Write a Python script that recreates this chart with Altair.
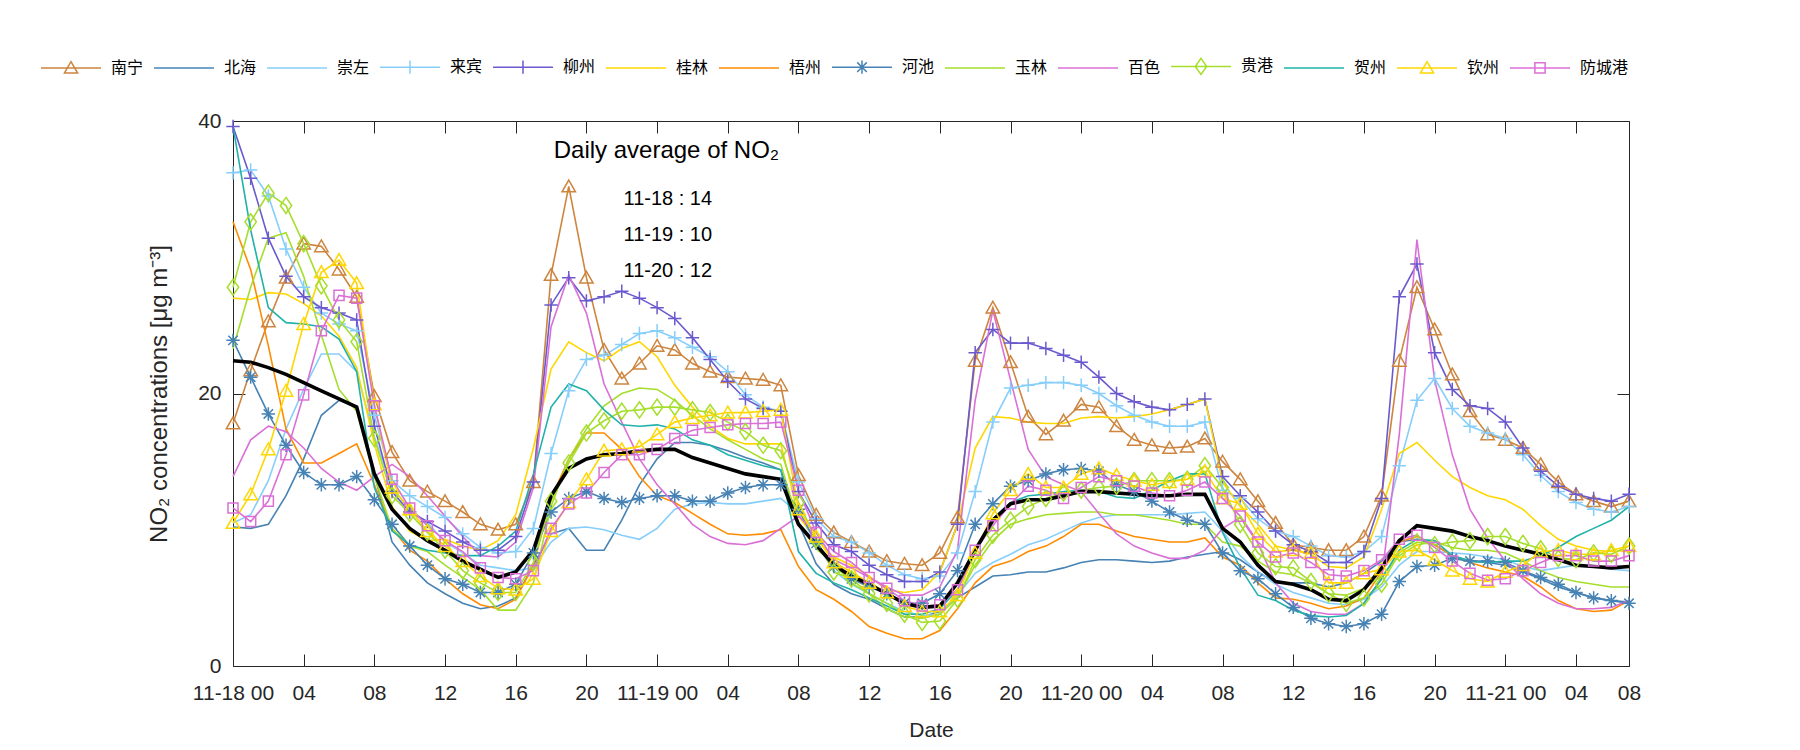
import json
import altair as alt
import pandas as pd

# ---------------- data (hourly NO2, 11-18 00 .. 11-21 07) ----------------
hours = list(range(80))

nanning = [17.8, 21.7, 25.3, 28.5, 31.0, 30.8, 29.1, 27.1, 19.8, 15.7, 13.6, 12.8,
           12.1, 11.3, 10.4, 10.0, 10.4, 13.5, 28.7, 35.2, 28.5, 23.2, 21.1,
           22.2, 23.5, 23.2, 22.2, 21.6, 21.2, 21.1, 21.0, 20.6,
           14.0, 11.1, 9.8,
           9.1, 8.4, 7.7, 7.5, 7.4, 8.3, 10.9, 22.4, 26.3, 22.3, 18.3,
           17.0, 18.0, 19.2, 19.0, 17.6, 16.6, 16.2, 16.0, 16.1, 16.7, 15.0,
           13.7, 12.1, 10.5, 8.9, 8.7, 8.5, 8.5, 9.5, 12.5, 22.4, 27.8, 24.7,
           21.4, 18.7, 17.0, 16.6, 16.0, 14.8, 13.5, 12.6, 12.1, 11.7, 12.1]
beihai = [10.2, 10.1, 10.4, 12.5, 15.2, 18.4, 19.5, 19.0, 14.1, 9.1, 7.4, 6.1,
          5.3, 4.6, 4.2, 4.4, 5.0, 7.4, 9.7, 10.1, 8.5, 8.5, 10.7,
          13.3, 15.2, 16.4, 16.4, 16.2, 15.8, 15.3, 14.9, 14.4,
          10.5, 7.5, 6.0,
          5.3, 4.9, 4.2, 3.6, 3.6, 4.0, 5.0, 5.8, 6.6, 6.7, 6.9,
          6.9, 7.2, 7.6, 7.8, 7.8, 7.7, 7.6, 7.7, 8.0, 8.2, 8.4,
          7.8, 6.9, 6.1, 6.1, 6.1, 5.8, 6.1, 6.8, 7.7, 9.1, 9.3, 8.9,
          8.1, 7.7, 7.6, 7.4, 6.9, 6.4, 5.8, 5.4, 5.0, 4.8, 4.7]
chongzuo = [10.5, 11.1, 13.6, 17.4, 20.3, 22.9, 22.9, 21.6, 16.8, 13.1, 11.5, 10.5,
            9.1, 8.3, 7.4, 7.2, 7.0, 7.2, 9.1, 10.1, 10.2, 10.0, 9.6,
            9.3, 10.1, 11.5, 11.9, 12.0, 11.9, 11.9, 12.1, 12.3,
            11.2, 9.0, 7.0,
            6.0, 5.3, 4.6, 4.0, 3.7, 3.8, 5.2, 6.8, 7.6, 8.2, 8.9,
            9.3, 9.9, 10.5, 10.9, 11.1, 11.1, 11.1, 11.1, 11.2, 11.3, 9.9,
            8.1, 6.9, 6.0, 5.4, 5.0, 4.6, 4.5, 4.9, 5.8, 7.4, 8.4, 8.4,
            8.3, 8.2, 8.0, 7.8, 7.3, 7.0, 7.2, 7.4, 7.3, 7.1, 7.0]
laibin = [36.2, 36.4, 34.5, 30.6, 27.8, 25.9, 25.1, 24.6, 18.4, 13.6, 12.5, 11.7,
          10.9, 9.7, 8.7, 8.3, 8.4, 10.1, 15.6, 20.2, 22.5, 22.8, 23.6,
          24.4, 24.6, 24.1, 23.4, 22.7, 21.6, 19.9, 19.0, 18.7,
          13.5, 10.8, 9.5,
          9.1, 8.3, 7.4, 6.7, 6.4, 6.6, 8.3, 12.8, 17.9, 20.4, 20.6,
          20.8, 20.8, 20.6, 20.0, 19.1, 18.4, 17.9, 17.6, 17.6, 17.9, 12.9,
          12.3, 10.8, 9.9, 9.5, 8.8, 8.1, 8.0, 8.4, 9.5, 14.7, 19.5, 21.1,
          18.9, 17.6, 17.1, 16.7, 15.5, 14.0, 12.8, 12.0, 11.5, 11.3, 11.7]
liuzhou = [39.6, 35.8, 31.4, 28.6, 27.1, 26.3, 25.9, 25.4, 17.6, 12.8, 11.3, 10.6,
           9.9, 9.1, 8.5, 8.5, 9.5, 13.5, 26.5, 28.5, 26.8, 27.1, 27.5,
           27.0, 26.3, 25.5, 24.1, 22.5, 20.9, 19.6, 18.9, 18.7,
           12.8, 10.5, 8.9,
           8.4, 7.4, 6.7, 6.2, 6.2, 6.9, 10.4, 23.0, 24.7, 23.7, 23.7,
           23.3, 22.8, 22.3, 21.2, 20.0, 19.4, 19.0, 18.8, 19.2, 19.6, 13.9,
           12.5, 11.3, 9.9, 8.9, 8.4, 7.6, 7.6, 8.4, 12.3, 27.1, 29.5, 23.0,
           20.3, 19.1, 18.9, 17.9, 16.0, 14.3, 13.2, 12.6, 12.3, 12.1, 12.6]
guilin = [27.0, 26.9, 27.4, 27.3, 26.6, 25.7, 24.2, 21.9, 16.3, 11.7, 9.9, 9.2,
          9.3, 8.8, 8.5, 9.2, 11.1, 16.0, 21.8, 23.8, 23.0, 22.4, 23.3,
          23.8, 22.7, 20.6, 19.0, 17.6, 16.7, 16.3, 16.3, 16.3,
          11.0, 9.3, 8.0,
          7.4, 6.6, 5.6, 5.4, 5.6, 6.9, 10.4, 16.0, 18.3, 18.2, 17.9,
          17.8, 17.8, 18.2, 18.3, 18.2, 18.3, 18.5, 18.8, 19.2, 19.6, 13.5,
          11.7, 10.4, 8.8, 8.5, 8.2, 7.3, 7.2, 8.0, 11.5, 15.6, 16.4, 15.1,
          13.9, 13.1, 12.5, 12.2, 11.5, 10.3, 9.3, 8.8, 8.5, 8.4, 8.5]
wuzhou = [32.6, 29.1, 23.5, 17.4, 14.9, 14.9, 15.6, 16.3, 13.3, 10.1, 8.5, 7.7,
          6.4, 5.3, 4.5, 4.2, 4.9, 7.4, 12.3, 15.2, 17.1, 17.1, 15.9,
          13.9, 12.5, 12.0, 11.2, 10.4, 9.7, 9.6, 9.7, 10.0,
          7.3, 5.6, 4.9,
          4.0, 2.9, 2.4, 2.0, 2.0, 2.6, 4.2, 6.1, 7.3, 7.7, 8.4,
          8.8, 9.5, 10.4, 10.4, 9.9, 9.5, 9.3, 9.1, 9.1, 9.4, 8.0,
          7.4, 6.1, 5.0, 4.9, 4.6, 4.2, 4.4, 5.0, 6.9, 9.1, 9.5, 8.9,
          8.1, 7.6, 7.2, 6.9, 6.6, 5.8, 4.8, 4.2, 4.0, 4.1, 4.8]
hechi = [23.9, 21.2, 18.5, 16.2, 14.2, 13.3, 13.3, 13.9, 12.2, 10.4, 8.8, 7.4,
         6.4, 6.0, 5.4, 5.4, 6.0, 8.3, 11.3, 12.3, 12.8, 12.3, 12.0,
         12.3, 12.5, 12.5, 12.1, 12.1, 12.7, 13.1, 13.3, 13.3,
         11.5, 9.0, 7.3,
         6.4, 5.8, 5.3, 4.6, 4.6, 5.3, 7.0, 10.4, 11.9, 13.2, 13.6,
         14.1, 14.4, 14.5, 14.3, 13.3, 12.8, 12.1, 11.3, 10.7, 10.4, 8.3,
         7.0, 6.4, 5.3, 4.3, 3.5, 3.1, 2.9, 3.1, 3.8, 6.2, 7.3, 7.4,
         7.9, 7.7, 7.7, 7.6, 7.0, 6.5, 6.0, 5.4, 5.0, 4.8, 4.6]
yulin = [23.3, 27.8, 31.4, 31.8, 28.6, 24.3, 20.3, 18.7, 13.9, 10.1, 8.8, 8.4,
         7.4, 6.5, 5.6, 4.1, 4.1, 6.1, 11.7, 15.2, 17.4, 19.1, 20.0,
         20.4, 20.3, 19.5, 18.4, 17.4, 16.6, 15.9, 15.2, 14.8,
         10.5, 8.6, 7.5,
         6.1, 5.3, 4.2, 3.6, 3.5, 3.8, 5.0, 7.4, 9.2, 10.4, 10.8,
         11.1, 11.2, 11.3, 11.3, 11.1, 11.1, 10.9, 10.7, 10.4, 10.4, 9.1,
         8.8, 7.7, 6.9, 6.7, 6.1, 5.3, 5.2, 5.7, 6.6, 8.1, 8.9, 9.1,
         8.7, 8.5, 8.5, 8.3, 7.7, 7.0, 6.5, 6.2, 6.0, 5.8, 5.8]
baise = [13.9, 16.6, 17.6, 17.2, 16.0, 14.5, 13.5, 12.9, 13.9, 14.8, 13.9, 12.5,
         11.0, 9.5, 8.1, 8.0, 9.1, 13.1, 24.9, 28.7, 25.9, 20.7, 17.9,
         15.2, 13.3, 11.9, 10.4, 9.5, 9.0, 8.9, 9.2, 10.1,
         11.0, 9.8, 7.8,
         7.2, 6.5, 5.8, 5.2, 5.2, 5.8, 8.5, 19.5, 26.1, 21.0, 15.9,
         13.9, 13.3, 12.8, 11.2, 9.7, 8.8, 8.3, 7.9, 7.9, 8.5, 10.1,
         10.9, 9.0, 6.1, 4.6, 4.0, 3.8, 3.8, 4.6, 6.4, 17.0, 31.3, 21.0,
         15.5, 11.5, 9.4, 7.7, 6.4, 5.3, 4.6, 4.2, 4.2, 4.3, 4.8]
guigang = [27.8, 32.6, 34.7, 33.8, 31.0, 27.9, 25.4, 23.8, 16.7, 12.5, 11.2, 9.8,
           8.5, 7.0, 6.1, 5.4, 5.4, 7.6, 12.1, 14.9, 17.1, 18.0, 18.7,
           18.8, 19.0, 19.0, 18.8, 18.6, 17.9, 17.2, 16.2, 15.8,
           12.0, 9.3, 6.9,
           6.4, 5.3, 4.6, 3.8, 3.2, 3.3, 4.9, 7.8, 9.6, 10.7, 11.7,
           12.3, 12.7, 12.9, 13.1, 13.2, 13.6, 13.6, 13.6, 13.7, 14.7, 13.1,
           10.4, 8.3, 7.3, 7.2, 6.2, 5.3, 4.6, 5.0, 6.0, 8.3, 9.1, 8.9,
           9.1, 9.2, 9.5, 9.5, 9.0, 8.6, 7.9, 7.8, 8.3, 8.2, 8.8]
hezhou = [39.6, 32.0, 26.3, 25.2, 25.1, 24.9, 24.0, 21.6, 13.1, 9.9, 8.9, 8.5,
          8.3, 8.1, 8.1, 8.8, 9.9, 14.1, 19.0, 20.7, 20.2, 18.8, 17.7,
          17.6, 17.7, 17.4, 16.6, 16.2, 15.5, 15.1, 14.7, 14.4,
          8.4, 6.8, 6.1,
          5.6, 5.0, 4.4, 3.8, 3.8, 4.2, 5.6, 8.5, 10.8, 12.0, 12.5,
          12.6, 12.8, 12.9, 12.8, 12.4, 12.3, 12.9, 13.6, 14.1, 14.1, 9.8,
          7.2, 5.2, 4.8, 4.1, 3.7, 3.6, 3.7, 4.6, 6.4, 8.5, 9.3, 9.2,
          8.1, 7.7, 7.6, 7.7, 7.7, 8.1, 8.7, 9.5, 10.1, 10.7, 11.7]
qinzhou = [10.5, 12.6, 15.9, 20.2, 25.1, 28.9, 29.8, 28.1, 19.2, 13.1, 11.5, 9.9,
           8.8, 7.7, 6.6, 5.7, 5.6, 6.4, 9.9, 12.0, 13.7, 15.8, 15.9,
           16.1, 17.0, 17.9, 18.2, 18.4, 18.6, 18.6, 18.7, 18.8,
           11.5, 9.5, 7.6,
           6.9, 6.1, 5.4, 4.4, 4.0, 4.0, 5.2, 8.3, 11.2, 12.9, 14.1,
           13.1, 13.1, 14.1, 14.5, 14.0, 13.6, 13.3, 13.5, 13.7, 14.3, 12.3,
           11.9, 9.7, 8.4, 8.5, 8.3, 6.1, 6.1, 6.8, 7.1, 8.4, 8.5, 7.8,
           7.0, 6.4, 6.2, 6.9, 7.4, 8.4, 8.5, 8.2, 8.2, 8.5, 8.8]
fangchenggang = [11.6, 10.6, 12.1, 15.5, 19.9, 24.6, 27.2, 27.0, 19.1, 13.7, 11.6, 10.3,
                 9.2, 8.4, 7.2, 6.5, 6.4, 7.0, 10.1, 11.9, 12.7, 14.2, 15.5,
                 15.5, 15.9, 16.7, 17.3, 17.5, 17.7, 17.8, 17.8, 17.9,
                 12.9, 9.8, 8.4,
                 7.6, 6.5, 5.7, 4.8, 4.4, 4.5, 5.6, 8.5, 10.3, 11.9, 13.2,
                 12.9, 12.3, 13.1, 13.9, 13.6, 13.2, 12.7, 12.5, 12.9, 13.5, 12.3,
                 11.0, 9.1, 8.0, 8.3, 7.6, 6.7, 6.6, 7.0, 7.8, 9.3, 9.6, 8.7,
                 7.7, 6.8, 6.3, 6.4, 7.0, 7.6, 8.1, 8.1, 7.7, 7.7, 8.1]
average = [22.4, 22.3, 21.9, 21.4, 20.8, 20.2, 19.6, 19.0, 14.1, 11.5, 10.1, 9.2,
           8.5, 7.7, 7.1, 6.5, 6.9, 8.5, 12.5, 14.5, 15.2, 15.5, 15.6,
           15.8, 15.9, 15.9, 15.3, 14.9, 14.5, 14.1, 13.9, 13.7,
           10.4, 8.9, 7.4,
           6.6, 6.0, 5.3, 4.6, 4.3, 4.4, 6.1, 8.5, 10.7, 11.9, 12.2,
           12.2, 12.5, 12.8, 12.8, 12.7, 12.6, 12.5, 12.5, 12.6, 12.6, 10.1,
           9.1, 7.4, 6.2, 6.0, 5.6, 4.9, 4.8, 5.6, 7.2, 9.2, 10.3, 10.1,
           9.9, 9.5, 9.2, 8.8, 8.5, 8.2, 7.8, 7.4, 7.3, 7.2, 7.3]

cities = ["南宁", "北海", "崇左", "来宾", "柳州", "桂林", "梧州",
          "河池", "玉林", "百色", "贵港", "贺州", "钦州", "防城港"]
series = [nanning, beihai, chongzuo, laibin, liuzhou, guilin, wuzhou,
          hechi, yulin, baise, guigang, hezhou, qinzhou, fangchenggang]
colors = ["#CD853F", "#4682B4", "#87CEFA", "#87CEFA", "#6A5ACD", "#FFD700", "#FF8C00",
          "#4682B4", "#A5DE2B", "#DA70D6", "#A5DE2B", "#20B2AA", "#FFD700", "#DA70D6"]

# marker kind of each city ('' = plain line)
markers = ["tri", "", "", "plus", "plus", "", "", "star", "", "", "diamond", "", "tri", "square"]

tick_values = [0, 4, 8, 12, 16, 20, 24, 28, 32, 36, 40, 44, 48, 52, 56, 60, 64, 68, 72, 76, 79]
tick_labels = ["11-18 00", "04", "08", "12", "16", "20", "11-19 00", "04", "08", "12", "16",
               "20", "11-20 00", "04", "08", "12", "16", "20", "11-21 00", "04", "08"]

ann_title = "Daily average of NO₂"
ann_days = ["11-18", "11-19", "11-20"]
ann_avgs = [14, 10, 12]

for s in series + [average]:
    assert len(s) == len(hours), len(s)

# ---------------- shapes ----------------
plot_paths = {
    "tri": "M0,-0.95L1,0.8L-1,0.8Z",
    "plus": "M-1,0H1M0,-1V1",
    "star": "M-1,0H1M0,-1V1M-0.7,-0.7L0.7,0.7M-0.7,0.7L0.7,-0.7",
    "diamond": "M0,-1.2L0.85,0L0,1.2L-0.85,0Z",
    "square": "M-0.75,-0.75H0.75V0.75H-0.75Z",
}
legend_paths = {
    "": "M-1,0H1",
    "tri": "M-1,0H1M0,-0.21L0.22,0.17L-0.22,0.17Z",
    "plus": "M-1,0H1M0,-0.22V0.22",
    "star": "M-1,0H1M0,-0.22V0.22M-0.16,-0.16L0.16,0.16M-0.16,0.16L0.16,-0.16",
    "diamond": "M-1,0H1M0,-0.27L0.19,0L0,0.27L-0.19,0Z",
    "square": "M-1,0H1M-0.17,-0.17H0.17V0.17H-0.17Z",
}

rows = []
for c, vals in zip(cities, series):
    for h, v in zip(hours, vals):
        rows.append({"hour": h, "value": v, "city": c})
df = pd.DataFrame(rows)

marker_cities = [c for c, m in zip(cities, markers) if m]
marker_range = [plot_paths[m] for m in markers if m]
df_mark = df[df["city"].isin(marker_cities)]
df_avg = pd.DataFrame({"hour": hours, "value": average})

ann_head = pd.DataFrame({"x": [18.15], "y": [37.8], "label": [ann_title]})
ann_lines = pd.DataFrame({
    "x": [22.1] * len(ann_days),
    "y": [34.3, 31.6, 29.0],
    "label": [f"{d} : {v}" for d, v in zip(ann_days, ann_avgs)],
})

FONT = "Liberation Sans"
TXT = "#262626"

xscale = alt.Scale(domain=[0, 79], nice=False, zero=False)
yscale = alt.Scale(domain=[0, 40], nice=False, zero=False)
color_scale = alt.Scale(domain=cities, range=colors)

label_expr = f"{json.dumps(tick_labels, ensure_ascii=False)}[indexof({json.dumps(tick_values)}, datum.value)]"

x_bottom = alt.Axis(orient="bottom", values=tick_values, labelExpr=label_expr, title="Date",
                    offset=-12, tickSize=12, labelPadding=16, titlePadding=16,
                    labelOverlap=False, labelFlush=False, domain=False, grid=False)
y_left = alt.Axis(orient="left", values=[0, 20, 40], title="NO₂ concentrations [μg m⁻³]",
                  offset=-12, tickSize=12, labelPadding=12, titlePadding=26,
                  titleFontSize=24, domain=False, grid=False)
x_top = alt.Axis(orient="top", values=tick_values[:-1], labels=False, title=None,
                 offset=-12, tickSize=12, domain=False, grid=False)
y_right = alt.Axis(orient="right", values=[0, 20, 40], labels=False, title=None,
                   offset=-12, tickSize=12, domain=False, grid=False)

lines = alt.Chart(df).mark_line(strokeWidth=1.6).encode(
    x=alt.X("hour:Q", scale=xscale, axis=x_bottom),
    y=alt.Y("value:Q", scale=yscale, axis=y_left),
    color=alt.Color("city:N", scale=color_scale, legend=None),
)

avg_line = alt.Chart(df_avg).mark_line(strokeWidth=3.6, color="black").encode(
    x=alt.X("hour:Q", scale=xscale, axis=x_top),
    y=alt.Y("value:Q", scale=yscale, axis=y_right),
)

points = alt.Chart(df_mark).mark_point(filled=False, size=180, strokeWidth=1.5, opacity=1).encode(
    x=alt.X("hour:Q", scale=xscale, axis=None),
    y=alt.Y("value:Q", scale=yscale, axis=None),
    color=alt.Color("city:N", scale=color_scale, legend=None),
    shape=alt.Shape("city:N", scale=alt.Scale(domain=marker_cities, range=marker_range), legend=None),
)

leg_kw = dict(orient="none", legendX=-193, legendY=-86, direction="horizontal", columns=14,
              title=None, symbolSize=3600, symbolStrokeWidth=1.5, labelOffset=9,
              columnPadding=7, labelFont="Noto Sans CJK SC", labelFontSize=16,
              labelColor="#000000", padding=0)
legend_layer = alt.Chart(pd.DataFrame({"city": cities})).mark_point(
    filled=False, strokeWidth=1.5, opacity=1).encode(
    color=alt.Color("city:N", scale=alt.Scale(domain=cities, range=colors), legend=alt.Legend(**leg_kw)),
    shape=alt.Shape("city:N", scale=alt.Scale(domain=cities, range=[legend_paths[m] for m in markers]),
                    legend=alt.Legend(**leg_kw)),
).transform_filter("datum.city == '__none__'")

ann1 = alt.Chart(ann_head).mark_text(align="left", baseline="middle", font=FONT, fontSize=24,
                                     color="#000000").encode(
    x=alt.X("x:Q", scale=xscale, axis=None),
    y=alt.Y("y:Q", scale=yscale, axis=None),
    text="label:N",
)
ann2 = alt.Chart(ann_lines).mark_text(align="left", baseline="middle", font=FONT, fontSize=20,
                                      color="#000000").encode(
    x=alt.X("x:Q", scale=xscale, axis=None),
    y=alt.Y("y:Q", scale=yscale, axis=None),
    text="label:N",
)

chart = alt.layer(lines, avg_line, points, ann1, ann2, legend_layer).resolve_scale(
    color="independent", shape="independent"
).resolve_axis(x="independent", y="independent").properties(
    width=1396, height=545,
    autosize=alt.AutoSizeParams(type="none"),
    padding={"left": 225, "top": 113, "right": 160, "bottom": 80},
).configure_view(stroke=TXT, strokeWidth=1).configure_axis(
    labelFont=FONT, titleFont=FONT, labelFontSize=21, titleFontSize=21,
    labelColor=TXT, titleColor=TXT, tickColor=TXT, tickWidth=1,
    titleFontWeight="normal",
)

chart.save("out.html", embed_options={"renderer": "svg", "actions": False})
